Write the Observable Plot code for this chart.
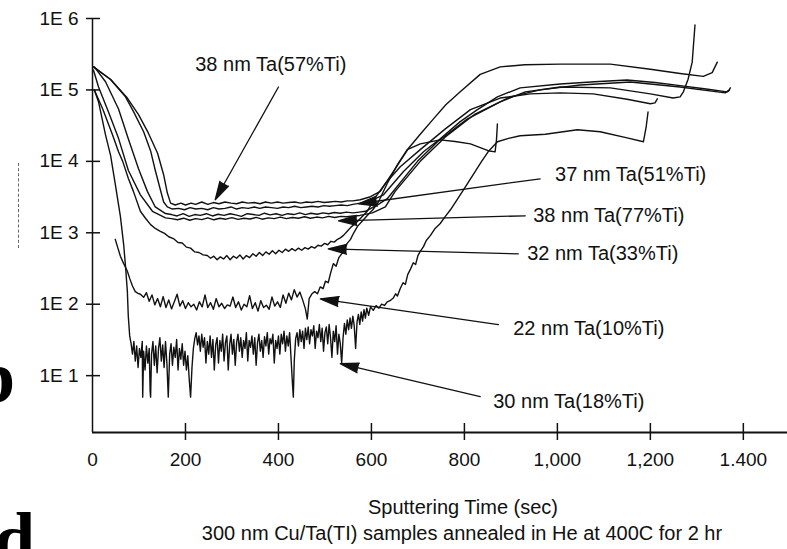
<!DOCTYPE html>
<html><head><meta charset="utf-8">
<script src="https://cdn.jsdelivr.net/npm/d3@7"></script>
<script src="https://cdn.jsdelivr.net/npm/@observablehq/plot@0.6"></script>
<style>
body{margin:0;background:#fff;}
#wrap{position:relative;width:787px;height:549px;overflow:hidden;background:#fff;font-family:"Liberation Sans",Arial,sans-serif;color:#000;}
#chart{position:absolute;left:0;top:0;}
.lbl{position:absolute;font-size:20px;line-height:22px;text-align:center;white-space:nowrap;color:#111;}
.art{position:absolute;font-family:"Liberation Serif",serif;font-weight:bold;font-size:74px;line-height:1;}
#dash{position:absolute;left:18px;top:163px;height:85px;border-left:1px dashed #666;}
</style></head>
<body><div id="wrap">
<div id="chart"></div>
<div class="lbl" style="left:263px;width:400px;top:496px;">Sputtering Time (sec)</div>
<div class="lbl" style="left:112px;width:700px;top:522px;">300 nm Cu/Ta(TI) samples annealed in He at 400C for 2 hr</div>
<div class="art" style="left:-26px;top:340px;">b</div>
<div class="art" style="left:-6px;top:502px;">d</div>
<div id="dash"></div>
</div>
<script>
// Axis ticks
const xTicks = [0, 200, 400, 600, 800, 1000, 1200, 1400];
const xTickLabels = ["0", "200", "400", "600", "800", "1,000", "1,200", "1.400"];
const yTicks = [1e1, 1e2, 1e3, 1e4, 1e5, 1e6];
const yTickLabels = ["1E 1", "1E 2", "1E 3", "1E 4", "1E 5", "1E 6"];

// Series: [sputtering time (s), counts]
const s57 = [[2,2.1e5],[39,1.4e5],[75,7.7e4],[99,4.5e4],[120,2.5e4],[140,1.3e4],[153,6.5e3],[161,3.6e3],[168,2.6e3],[178,2.45e3],[190,2.6e3],[200,2.45e3],[212,2.6e3],[222,2.5e3],[235,2.7e3],[248,2.5e3],[260,2.65e3],[272,2.55e3],[285,2.7e3],[298,2.6e3],[310,2.55e3],[322,2.7e3],[335,2.6e3],[348,2.65e3],[360,2.55e3],[372,2.7e3],[385,2.6e3],[398,2.7e3],[410,2.6e3],[422,2.65e3],[435,2.7e3],[448,2.6e3],[460,2.7e3],[472,2.65e3],[485,2.75e3],[498,2.65e3],[510,2.7e3],[522,2.75e3],[535,2.7e3],[548,2.8e3],[560,2.8e3],[576,2.9e3],[598,3.2e3],[619,3.8e3],[647,7.2e3],[679,1.5e4],[705,2.4e4],[733,3.9e4],[760,6.2e4],[791,9.4e4],[834,1.65e5],[877,2.1e5],[930,2.25e5],[1006,2.3e5],[1114,2.3e5],[1200,1.95e5],[1264,1.7e5],[1314,1.55e5],[1333,1.75e5],[1344,2.45e5]];
const s51 = [[2,2.1e5],[39,1.4e5],[71,8.0e4],[88,5.0e4],[110,2.6e4],[125,1.4e4],[135,7.5e3],[146,4.0e3],[153,2.7e3],[161,2.3e3],[172,2.15e3],[185,2.2e3],[198,2.1e3],[210,2.25e3],[222,2.15e3],[235,2.2e3],[248,2.1e3],[260,2.25e3],[272,2.15e3],[285,2.2e3],[298,2.3e3],[310,2.15e3],[322,2.25e3],[335,2.2e3],[348,2.3e3],[360,2.2e3],[372,2.3e3],[385,2.25e3],[398,2.2e3],[410,2.3e3],[422,2.25e3],[435,2.35e3],[448,2.25e3],[460,2.3e3],[472,2.35e3],[485,2.3e3],[498,2.4e3],[510,2.35e3],[522,2.4e3],[535,2.45e3],[548,2.4e3],[560,2.5e3],[576,2.6e3],[598,2.8e3],[626,3.4e3],[669,7.2e3],[712,1.36e4],[748,2.07e4],[791,3.6e4],[828,5.3e4],[871,8.0e4],[920,1.07e5],[1006,1.21e5],[1080,1.3e5],[1150,1.38e5],[1210,1.27e5],[1264,1.15e5],[1320,1.03e5],[1365,9.4e4],[1369,9.8e4],[1372,1.07e5]];
const s77 = [[4,2.1e5],[28,1.3e5],[56,5.4e4],[77,2.07e4],[99,7.9e3],[118,3.8e3],[135,2.3e3],[157,1.86e3],[170,1.8e3],[182,1.72e3],[195,1.85e3],[208,1.7e3],[220,1.8e3],[232,1.75e3],[245,1.85e3],[258,1.72e3],[270,1.82e3],[283,1.75e3],[296,1.85e3],[308,1.78e3],[320,1.7e3],[333,1.85e3],[346,1.8e3],[358,1.75e3],[370,1.88e3],[382,1.78e3],[395,1.85e3],[408,1.75e3],[420,1.85e3],[433,1.8e3],[446,1.9e3],[458,1.8e3],[470,1.88e3],[483,1.82e3],[496,1.9e3],[508,1.85e3],[520,1.92e3],[533,1.88e3],[546,1.95e3],[560,1.9e3],[574,1.95e3],[587,2.0e3],[615,2.5e3],[634,3.0e3],[699,1.0e4],[742,1.88e4],[806,3.9e4],[877,6.8e4],[931,9.4e4],[1006,1.1e5],[1114,1.07e5],[1200,8.8e4],[1249,7.7e4],[1264,8.0e4],[1271,9.4e4],[1281,1.4e5],[1290,2.45e5],[1296,8.1e5]];
const sExtra = [[2,1.9e5],[13,1.1e5],[34,5.0e4],[56,2.1e4],[77,7.5e3],[103,3.4e3],[129,2.0e3],[157,1.62e3],[170,1.58e3],[183,1.52e3],[196,1.6e3],[209,1.5e3],[222,1.58e3],[235,1.53e3],[248,1.62e3],[261,1.52e3],[274,1.6e3],[287,1.55e3],[300,1.63e3],[313,1.54e3],[326,1.6e3],[339,1.56e3],[352,1.64e3],[365,1.55e3],[378,1.62e3],[391,1.58e3],[404,1.66e3],[417,1.58e3],[430,1.64e3],[443,1.6e3],[456,1.68e3],[469,1.6e3],[482,1.66e3],[495,1.62e3],[508,1.7e3],[521,1.64e3],[534,1.7e3],[547,1.68e3],[560,1.72e3],[575,1.75e3],[602,1.9e3],[630,2.3e3],[651,3.8e3],[705,1.0e4],[759,2.2e4],[823,4.6e4],[899,8.0e4],[963,1.0e5],[1049,1.17e5],[1157,1.29e5],[1264,1.1e5],[1361,9.1e4],[1370,1.0e5]];
const s33 = [[4,1.0e5],[22,5.4e4],[43,2.35e4],[56,1.36e4],[65,1.0e4],[77,5.8e3],[88,3.8e3],[103,2.0e3],[114,1.6e3],[125,1.3e3],[135,1.15e3],[146,1.05e3],[155,980],[164,880],[174,830],[184,730],[193,720],[202,630],[211,610],[220,540],[229,530],[238,490],[247,480],[254,440],[261,470],[268,420],[275,460],[282,430],[289,480],[296,420],[303,470],[310,440],[317,490],[324,430],[331,480],[338,450],[345,510],[352,470],[359,530],[366,480],[373,540],[380,500],[387,560],[394,510],[401,570],[408,530],[415,590],[422,550],[429,600],[436,560],[443,610],[450,570],[457,620],[464,590],[471,640],[478,610],[485,670],[492,650],[499,710],[506,680],[513,760],[520,740],[527,810],[533,850],[540,920],[548,1050],[556,1200],[570,1440],[591,2000],[608,3100],[630,4900],[662,8400],[705,1.46e4],[759,2.85e4],[813,5.3e4],[877,7.7e4],[942,8.8e4],[1006,9.1e4],[1077,8.8e4],[1150,7.4e4],[1200,6.4e4],[1210,6.6e4],[1215,7.5e4]];
const s10 = [[49,810],[55,600],[60,470],[67,370],[71,330],[75,290],[80,230],[86,180],[92,150],[98,142],[103,138],[110,125],[116,145],[122,110],[128,135],[134,98],[140,120],[146,92],[152,128],[158,90],[164,115],[170,86],[176,108],[182,138],[188,94],[194,112],[200,87],[206,105],[212,92],[218,100],[224,83],[230,108],[236,92],[242,135],[248,90],[254,105],[260,85],[266,120],[272,92],[278,103],[284,87],[290,98],[296,94],[302,126],[308,90],[314,108],[320,83],[326,100],[332,92],[338,132],[344,87],[350,105],[356,80],[362,112],[368,90],[374,97],[380,85],[386,126],[392,94],[398,108],[404,90],[410,135],[416,103],[422,143],[428,115],[434,160],[440,126],[446,148],[452,115],[458,86],[462,62],[466,120],[472,140],[478,150],[484,140],[490,175],[496,165],[501,210],[507,200],[512,270],[518,370],[524,340],[530,450],[540,550],[547,700],[555,810],[562,1000],[570,1230],[580,1450],[591,1750],[603,2100],[615,2700],[634,4900],[656,9000],[677,1.46e4],[705,1.76e4],[748,2.0e4],[780,1.9e4],[813,1.76e4],[851,1.41e4],[866,1.36e4],[869,2.0e4],[871,3.35e4]];
const s18 = [[4,1.0e5],[13,6.8e4],[28,2.35e4],[39,1.2e4],[49,4.8e3],[60,1.7e3],[67,690],[71,340],[75,150],[77,68],[80,36],[83,28],[86,20],[89,30],[92,16],[95,26],[98,13],[101,24],[104,18],[107,30],[108,5],[110,22],[113,12],[116,26],[119,15],[122,24],[124,6],[125,5],[127,20],[130,30],[133,14],[136,26],[139,11],[142,24],[145,34],[148,16],[151,27],[154,13],[157,30],[160,15],[163,5],[166,20],[169,28],[172,14],[175,25],[178,18],[181,32],[184,12],[187,24],[190,17],[193,28],[196,14],[199,22],[202,12],[205,19],[208,9],[211,5],[214,13],[217,24],[220,33],[223,40],[226,27],[229,36],[232,22],[235,38],[238,25],[241,34],[244,15],[247,30],[250,20],[253,36],[256,18],[259,32],[262,12],[265,27],[268,34],[271,15],[274,31],[277,22],[280,38],[283,16],[286,29],[289,36],[292,12],[295,27],[298,38],[301,20],[304,32],[307,14],[310,29],[313,38],[316,22],[319,34],[322,18],[325,31],[328,24],[331,40],[334,16],[337,31],[340,25],[343,36],[346,20],[349,34],[352,14],[355,29],[358,38],[361,22],[364,31],[367,18],[370,35],[373,26],[376,40],[379,20],[382,33],[385,28],[388,38],[391,15],[394,31],[397,24],[400,36],[403,20],[406,38],[409,28],[412,42],[415,22],[418,36],[421,26],[424,40],[427,18],[430,8],[432,5],[434,16],[437,33],[440,40],[443,26],[446,44],[449,30],[452,42],[455,24],[458,46],[461,32],[464,48],[467,28],[470,44],[473,36],[476,50],[479,24],[482,42],[485,34],[488,52],[491,30],[494,46],[497,22],[500,40],[503,48],[506,28],[509,52],[512,34],[515,18],[518,42],[521,30],[524,50],[527,20],[530,38],[533,28],[536,15],[539,34],[542,54],[545,38],[548,60],[551,44],[554,64],[557,46],[560,68],[563,50],[566,24],[569,56],[572,72],[575,52],[578,78],[581,58],[584,84],[587,64],[590,88],[594,70],[598,92],[604,82],[610,96],[616,88],[622,100],[628,96],[634,108],[640,112],[647,122],[652,140],[656,130],[662,166],[668,200],[673,190],[678,260],[684,310],[690,380],[695,360],[700,480],[705,550],[712,640],[718,780],[727,920],[737,1150],[748,1350],[759,1700],[770,2100],[784,2900],[798,4000],[810,5300],[823,7200],[837,1.0e4],[851,1.36e4],[871,1.88e4],[895,2.1e4],[920,2.28e4],[974,2.4e4],[1043,2.77e4],[1092,2.6e4],[1150,2.13e4],[1185,1.88e4],[1191,3.05e4],[1195,4.9e4]];

// Annotation labels and arrows (data space)
const labelText = ["38 nm Ta(57%Ti)", "37 nm Ta(51%Ti)", "38 nm Ta(77%Ti)", "32 nm Ta(33%Ti)", "22 nm Ta(10%Ti)", "30 nm Ta(18%Ti)"];
const labelT = [221, 995, 948, 935, 905, 862];
const labelV = [2.24e5, 6.5e3, 1.73e3, 508, 45.4, 4.33];
const arrowT1 = [400, 963, 931, 916, 873, 834];
const arrowV1 = [1.1e5, 5.7e3, 1.73e3, 508, 51.7, 5.08];
const arrowT2 = [264, 572, 529, 507, 490, 533];
const arrowV2 = [2.9e3, 2.55e3, 1.47e3, 597, 119, 14.7];

const allSeries = [s57, s51, s77, sExtra, s33, s10, s18];
const labels = labelText.map((text, i) => ({text, t: labelT[i], v: labelV[i]}));
const arrows = arrowT1.map((t, i) => ({t1: t, v1: arrowV1[i], t2: arrowT2[i], v2: arrowV2[i]}));

const plot = Plot.plot({
  width: 787,
  height: 475,
  marginLeft: 92,
  marginRight: 0,
  marginTop: 18,
  marginBottom: 43,
  style: {fontFamily: "'Liberation Sans', Arial, sans-serif", fontSize: "19px", background: "white", color: "#111", overflow: "visible"},
  x: {domain: [0, 1495], ticks: xTicks, tickSize: 0, tickPadding: 20, tickFormat: d => xTickLabels[xTicks.indexOf(d)], label: null},
  y: {type: "log", domain: [1.6, 1e6], ticks: yTicks, tickSize: 0, tickPadding: 14, tickFormat: d => yTickLabels[yTicks.indexOf(d)], label: null},
  marks: [
    Plot.ruleX([0], {stroke: "#111", strokeWidth: 1.5}),
    Plot.ruleY([1.6], {stroke: "#111", strokeWidth: 2}),
    Plot.tickX(xTicks.slice(1), {x: d => d, stroke: "#111", strokeWidth: 1.5, insetTop: 405, insetBottom: -8}),
    Plot.tickY(yTicks, {y: d => d, stroke: "#111", strokeWidth: 1.5, insetLeft: -6, insetRight: 687}),
    ...allSeries.map(s => Plot.line(s, {x: d => d[0], y: d => d[1], stroke: "#111", strokeWidth: 1.4, strokeLinejoin: "round"})),
    Plot.arrow(arrows, {x1: "t1", y1: "v1", x2: "t2", y2: "v2", stroke: "#111", fill: "#111", strokeWidth: 1.3, headAngle: 30, headLength: 22, strokeLinejoin: "miter"}),
    Plot.text(labels, {x: "t", y: "v", text: "text", textAnchor: "start", lineAnchor: "middle", fontSize: 20, fill: "#111"})
  ]
});
document.getElementById("chart").appendChild(plot);
</script>
</body></html>
